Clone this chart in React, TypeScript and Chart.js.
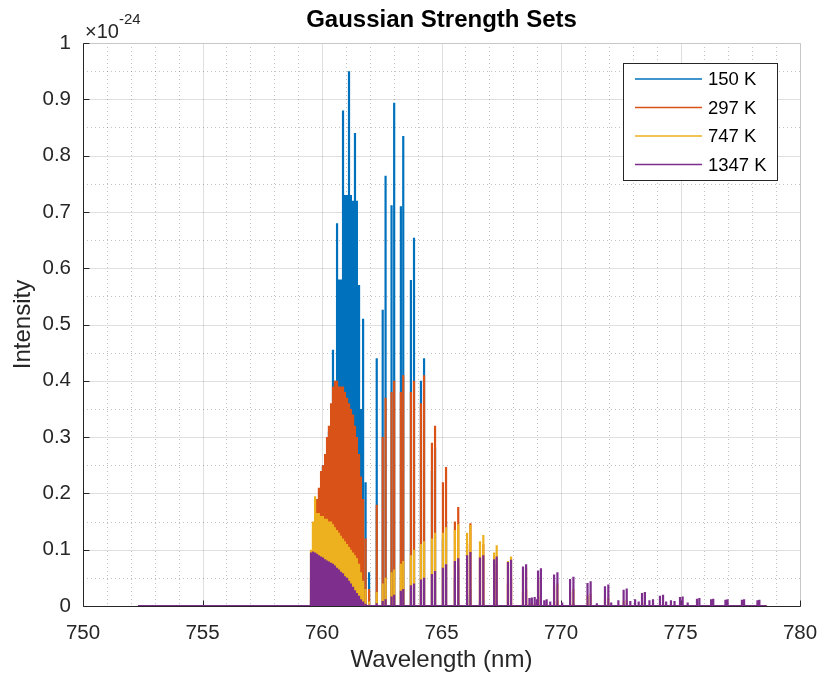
import { useEffect, useRef } from "react";
import { Chart, registerables } from "chart.js";

Chart.register(...registerables);

// Oxygen A-band line centres (nm) with Gaussian strengths in units of 1e-24.
// R branch (band head side)
const rCenters = [
  759.54, 759.62, 759.71, 759.79, 759.87, 759.96, 760.04, 760.13, 760.21, 760.29,
  760.38, 760.46, 760.54, 760.63, 760.71, 760.79, 760.88, 760.96, 761.05, 761.13,
  761.21, 761.3, 761.38, 761.46, 761.55, 761.63, 761.72, 761.8, 761.84,
];
const r150K = [
  0.01, 0.02, 0.05, 0.07, 0.09, 0.12, 0.25, 0.16, 0.2, 0.31,
  0.28, 0.455, 0.4, 0.68, 0.58, 0.58, 0.88, 0.73, 0.73, 0.95,
  0.73, 0.72, 0.84, 0.72, 0.57, 0.35, 0.51, 0.2, 0.22,
];
const r297K = [
  0.05, 0.1, 0.15, 0.19, 0.21, 0.24, 0.25, 0.27, 0.3, 0.32,
  0.36, 0.39, 0.4, 0.4, 0.39, 0.39, 0.39, 0.38, 0.37, 0.36,
  0.35, 0.34, 0.32, 0.3, 0.27, 0.23, 0.19, 0.12, 0.08,
];
const r747K = [
  0.1, 0.15, 0.195, 0.165, 0.165, 0.16, 0.16, 0.155, 0.155, 0.15,
  0.15, 0.145, 0.14, 0.135, 0.13, 0.125, 0.12, 0.115, 0.11, 0.105,
  0.1, 0.095, 0.09, 0.085, 0.075, 0.06, 0.045, 0.03, 0.015,
];
const r1347K = [
  0.095, 0.097, 0.095, 0.093, 0.09, 0.088, 0.086, 0.083, 0.081, 0.079,
  0.077, 0.075, 0.072, 0.068, 0.065, 0.061, 0.058, 0.053, 0.05, 0.045,
  0.04, 0.034, 0.028, 0.023, 0.018, 0.012, 0.008, 0.004, 0.003,
];

// P branch (doublets)
const pCenters = [
  761.97, 762.29, 762.54, 762.66, 762.91, 763.02, 763.3, 763.4, 763.72, 763.85,
  764.14, 764.27, 764.6, 764.73, 765.06, 765.19, 765.56, 765.7, 766.07, 766.21,
  766.61, 766.75, 767.2, 767.31, 767.78, 767.91, 768.41, 768.54, 769.04, 769.16,
  769.71, 769.85, 770.38, 770.52, 771.11, 771.24, 771.84, 771.98, 772.62, 772.75,
  773.39, 773.51, 774.14, 774.27, 774.98, 775.09, 775.69, 775.79, 776.28, 776.37,
  776.88, 776.97, 777.57, 777.66, 778.22, 778.3,
];
const p150K = [
  0.06, 0.44, 0.526, 0.764, 0.712, 0.894, 0.71, 0.835, 0.579, 0.654,
  0.4, 0.44, 0.24, 0.28, 0.12, 0.15, 0.05, 0.07, 0.02, 0.03,
  0.008, 0.01, 0.003, 0.004, 0, 0, 0, 0, 0, 0,
  0, 0, 0, 0, 0, 0, 0, 0, 0, 0,
  0, 0, 0, 0, 0, 0, 0, 0, 0, 0,
  0, 0, 0, 0, 0, 0,
];
const p297K = [
  0.03, 0.18, 0.3, 0.37, 0.38, 0.4, 0.38, 0.41, 0.38, 0.4,
  0.36, 0.41, 0.29, 0.32, 0.22, 0.247, 0.15, 0.176, 0.11, 0.147,
  0.09, 0.11, 0.06, 0.075, 0.04, 0.05, 0.025, 0.03, 0.015, 0.018,
  0.008, 0.01, 0.004, 0.005, 0.002, 0.002, 0, 0, 0, 0,
  0, 0, 0, 0, 0, 0, 0, 0, 0, 0,
  0, 0, 0, 0, 0, 0,
];
const p747K = [
  0.008, 0.025, 0.04, 0.05, 0.06, 0.065, 0.075, 0.08, 0.09, 0.1,
  0.11, 0.115, 0.12, 0.13, 0.13, 0.14, 0.135, 0.145, 0.13, 0.144,
  0.115, 0.126, 0.095, 0.108, 0.08, 0.088, 0.06, 0.068, 0.045, 0.052,
  0.035, 0.04, 0.025, 0.03, 0.018, 0.022, 0.012, 0.015, 0.008, 0.01,
  0.005, 0.007, 0.003, 0.004, 0.002, 0.002, 0, 0, 0, 0,
  0, 0, 0, 0, 0, 0,
];
const p1347K = [
  0.002, 0.005, 0.009, 0.012, 0.017, 0.02, 0.027, 0.03, 0.037, 0.04,
  0.047, 0.05, 0.057, 0.062, 0.068, 0.074, 0.08, 0.085, 0.09, 0.096,
  0.086, 0.09, 0.083, 0.088, 0.078, 0.082, 0.07, 0.074, 0.063, 0.067,
  0.056, 0.06, 0.048, 0.052, 0.041, 0.044, 0.035, 0.038, 0.029, 0.031,
  0.023, 0.025, 0.018, 0.02, 0.016, 0.017, 0.013, 0.014, 0.012, 0.013,
  0.011, 0.012, 0.011, 0.012, 0.01, 0.011,
];

// Weak lines in the long-wavelength tail (hot sets only)
const weakCenters = [
  768.68, 768.78, 768.9, 769.0, 769.3, 769.4, 769.55, 770.05, 771.5, 772.1,
  772.4, 772.9, 773.1, 773.25, 773.7, 773.85, 774.4, 774.6, 774.75, 775.3,
];
const weak747K = [
  0.004, 0.005, 0.005, 0.004, 0.003, 0.003, 0.002, 0.002, 0, 0,
  0, 0, 0, 0, 0, 0, 0, 0, 0, 0,
];
const weak1347K = [
  0.014, 0.015, 0.016, 0.012, 0.01, 0.012, 0.008, 0.006, 0.005, 0.006,
  0.01, 0.009, 0.012, 0.008, 0.01, 0.012, 0.008, 0.01, 0.009, 0.006,
];

// Wavelength span of the computed spectrum
const spectrumStart = 752.3;
const spectrumEnd = 778.6;

const seriesLabels = ["150 K", "297 K", "747 K", "1347 K"];
const seriesColors = ["#0072BD", "#D95319", "#EDB120", "#7E2F8E"];

const xTicks = [750, 755, 760, 765, 770, 775, 780];
const yTicks = [0, 0.1, 0.2, 0.3, 0.4, 0.5, 0.6, 0.7, 0.8, 0.9, 1];
const xMinorStep = 1;
const yMinorStep = 0.05;

const FONT = "'Liberation Sans', Arial, Helvetica, sans-serif";
const INK = "#262626";

const zeros = (n: number) => new Array(n).fill(0);

const allCenters = [...rCenters, ...pCenters, ...weakCenters];
const allStrengths = [
  [...r150K, ...p150K, ...zeros(weakCenters.length)],
  [...r297K, ...p297K, ...zeros(weakCenters.length)],
  [...r747K, ...p747K, ...weak747K],
  [...r1347K, ...p1347K, ...weak1347K],
];

// Each line is drawn as a narrow spike rising from the zero baseline.
function spikeTrace(centers: number[], heights: number[]) {
  const idx = centers.map((_, i) => i).sort((a, b) => centers[a] - centers[b]);
  const pts: { x: number; y: number }[] = [{ x: spectrumStart, y: 0 }];
  for (const i of idx) {
    const h = heights[i];
    if (!h) continue;
    const c = centers[i];
    pts.push({ x: c, y: 0 }, { x: c, y: h }, { x: c, y: 0 });
  }
  pts.push({ x: spectrumEnd, y: 0 });
  return pts;
}

const framePlugin = {
  id: "frameAndGrid",
  beforeDatasetsDraw(chart: any) {
    const { ctx, chartArea: a, scales } = chart;
    const xs = scales.x;
    const ys = scales.y;
    const isMajor = (list: number[], v: number) =>
      list.some((t) => Math.abs(t - v) < 1e-6);
    ctx.save();
    ctx.lineWidth = 1;

    // minor grid (dotted)
    ctx.strokeStyle = "rgba(38,38,38,0.28)";
    ctx.setLineDash([1, 3]);
    ctx.beginPath();
    const nx = Math.round((xs.max - xs.min) / xMinorStep);
    for (let k = 1; k < nx; k++) {
      const v = xs.min + k * xMinorStep;
      if (isMajor(xTicks, v)) continue;
      const px = Math.round(xs.getPixelForValue(v)) + 0.5;
      ctx.moveTo(px, a.top);
      ctx.lineTo(px, a.bottom);
    }
    const ny = Math.round((ys.max - ys.min) / yMinorStep);
    for (let k = 1; k < ny; k++) {
      const v = ys.min + k * yMinorStep;
      if (isMajor(yTicks, v)) continue;
      const py = Math.round(ys.getPixelForValue(v)) + 0.5;
      ctx.moveTo(a.left, py);
      ctx.lineTo(a.right, py);
    }
    ctx.stroke();

    // major grid (solid)
    ctx.setLineDash([]);
    ctx.strokeStyle = "rgba(38,38,38,0.15)";
    ctx.beginPath();
    for (const v of xTicks) {
      const px = Math.round(xs.getPixelForValue(v)) + 0.5;
      ctx.moveTo(px, a.top);
      ctx.lineTo(px, a.bottom);
    }
    for (const v of yTicks) {
      const py = Math.round(ys.getPixelForValue(v)) + 0.5;
      ctx.moveTo(a.left, py);
      ctx.lineTo(a.right, py);
    }
    ctx.stroke();

    // axes box
    const L = Math.round(a.left) + 0.5;
    const R = Math.round(a.right) + 0.5;
    const T = Math.round(a.top) + 0.5;
    const B = Math.round(a.bottom) + 0.5;
    ctx.strokeStyle = "#c8c8c8";
    ctx.beginPath();
    ctx.moveTo(L, T);
    ctx.lineTo(R, T);
    ctx.lineTo(R, B);
    ctx.stroke();
    ctx.strokeStyle = INK;
    ctx.beginPath();
    ctx.moveTo(L, T);
    ctx.lineTo(L, B);
    ctx.lineTo(R, B);
    for (const v of xTicks) {
      const px = Math.round(xs.getPixelForValue(v)) + 0.5;
      ctx.moveTo(px, B);
      ctx.lineTo(px, B - 6);
    }
    for (const v of yTicks) {
      const py = Math.round(ys.getPixelForValue(v)) + 0.5;
      ctx.moveTo(L, py);
      ctx.lineTo(L + 6, py);
    }
    ctx.stroke();
    ctx.restore();
  },
  afterDraw(chart: any) {
    const { ctx, chartArea: a } = chart;
    ctx.save();
    const cx = (a.left + a.right) / 2;

    // title
    ctx.fillStyle = "#000";
    ctx.font = `bold 24px ${FONT}`;
    ctx.textAlign = "center";
    ctx.textBaseline = "middle";
    ctx.fillText("Gaussian Strength Sets", cx, 20);

    // axis titles
    ctx.fillStyle = INK;
    ctx.font = `24px ${FONT}`;
    ctx.fillText("Wavelength (nm)", cx, 660);
    ctx.save();
    ctx.translate(23, (a.top + a.bottom) / 2);
    ctx.rotate(-Math.PI / 2);
    ctx.fillText("Intensity", 0, 0);
    ctx.restore();

    // axis exponent
    ctx.textAlign = "left";
    ctx.textBaseline = "alphabetic";
    ctx.font = `20px ${FONT}`;
    const base = "\u00d710";
    ctx.fillText(base, a.left + 2, 38);
    const w = ctx.measureText(base).width;
    ctx.font = `15px ${FONT}`;
    ctx.fillText("-24", a.left + 2 + w, 24);

    // legend
    const bx = 623;
    const by = 63;
    const bw = 154;
    const bh = 117;
    ctx.fillStyle = "#fff";
    ctx.fillRect(bx, by, bw, bh);
    ctx.strokeStyle = INK;
    ctx.lineWidth = 1;
    ctx.strokeRect(bx + 0.5, by + 0.5, bw, bh);
    ctx.font = `18.5px ${FONT}`;
    ctx.textBaseline = "middle";
    seriesLabels.forEach((label, i) => {
      const ry = by + 16 + i * 28.5;
      ctx.strokeStyle = seriesColors[i];
      ctx.lineWidth = 1.5;
      ctx.beginPath();
      ctx.moveTo(bx + 12, ry);
      ctx.lineTo(bx + 79, ry);
      ctx.stroke();
      ctx.fillStyle = "#000";
      ctx.fillText(label, bx + 85, ry + 1);
    });
    ctx.restore();
  },
};

export default function App() {
  const canvasRef = useRef<HTMLCanvasElement | null>(null);

  useEffect(() => {
    if (!canvasRef.current) return;
    const datasets = seriesLabels.map((label, i) => ({
      label,
      data: spikeTrace(allCenters, allStrengths[i]),
      borderColor: seriesColors[i],
      backgroundColor: seriesColors[i],
      borderWidth: 2.2,
      pointRadius: 0,
      tension: 0,
      fill: false,
      // later sets are painted over earlier ones
      order: seriesLabels.length - i,
    }));

    const chart = new Chart(canvasRef.current, {
      type: "line",
      data: { datasets },
      options: {
        animation: false,
        responsive: false,
        devicePixelRatio: 1,
        layout: { padding: { top: 43, right: 17, bottom: 0, left: 0 } },
        plugins: {
          legend: { display: false },
          tooltip: { enabled: false },
          title: { display: false },
        },
        scales: {
          x: {
            type: "linear",
            min: xTicks[0],
            max: xTicks[xTicks.length - 1],
            afterBuildTicks: (s: any) => {
              s.ticks = xTicks.map((v) => ({ value: v }));
            },
            afterFit: (s: any) => {
              s.height = 73;
              s.paddingLeft = 0;
              s.paddingRight = 0;
            },
            grid: { display: false, drawTicks: false },
            border: { display: false },
            ticks: {
              autoSkip: false,
              maxRotation: 0,
              padding: 15,
              color: INK,
              font: { family: FONT, size: 20.5 },
              callback: (v: any) => String(v),
            },
          },
          y: {
            type: "linear",
            min: yTicks[0],
            max: yTicks[yTicks.length - 1],
            afterBuildTicks: (s: any) => {
              s.ticks = yTicks.map((v) => ({ value: v }));
            },
            afterFit: (s: any) => {
              s.width = 83;
              s.paddingTop = 0;
              s.paddingBottom = 0;
            },
            grid: { display: false, drawTicks: false },
            border: { display: false },
            ticks: {
              padding: 12,
              color: INK,
              font: { family: FONT, size: 20.5 },
              callback: (v: any) => String(v),
            },
          },
        },
      },
      plugins: [framePlugin],
    });
    return () => chart.destroy();
  }, []);

  return (
    <div
      style={{
        position: "fixed",
        left: 0,
        top: 0,
        width: 817,
        height: 679,
        background: "#fff",
      }}
    >
      <canvas ref={canvasRef} width={817} height={679} />
    </div>
  );
}
